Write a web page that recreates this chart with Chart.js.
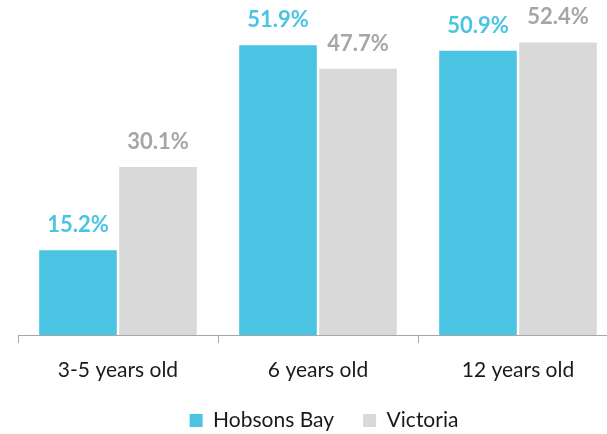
<!DOCTYPE html>
<html>
<head>
<meta charset="utf-8">
<script src="https://cdn.jsdelivr.net/npm/chart.js@4"></script>
<style>
  html, body { margin: 0; padding: 0; background: #fff; overflow: hidden; }
  #wrap { width: 630px; height: 434px; }
</style>
</head>
<body>
<div id="wrap"><canvas id="myChart" width="630" height="434"></canvas></div>
<script>
const categories = ['3-5 years old', '6 years old', '12 years old'];
const hobsonsBay = [15.2, 51.9, 50.9];
const victoria = [30.1, 47.7, 52.4];
const seriesNames = ['Hobsons Bay', 'Victoria'];

const blue = '#4BC4E3';
const grey = '#D9D9D9';
const greyText = '#A6A6A6';

// draws the value above each bar
const valueLabels = {
  id: 'valueLabels',
  afterDatasetsDraw(chart) {
    const ctx = chart.ctx;
    ctx.save();
    ctx.font = 'bold 22px Lato';
    ctx.textAlign = 'center';
    ctx.textBaseline = 'alphabetic';
    chart.data.datasets.forEach((ds, i) => {
      const meta = chart.getDatasetMeta(i);
      ctx.fillStyle = i === 0 ? blue : greyText;
      meta.data.forEach((bar, j) => {
        ctx.fillText(ds.data[j].toFixed(1) + '%', bar.x, bar.y - 18);
      });
    });
    ctx.restore();
  }
};

let ctx = document.getElementById('myChart').getContext('2d');
let myChart = new Chart(ctx, {
  type: 'bar',
  data: {
    labels: categories,
    datasets: [{
        label: seriesNames[0],
        data: hobsonsBay,
        backgroundColor: blue,
        barPercentage: 0.97,
        categoryPercentage: 0.8
      },
      {
        label: seriesNames[1],
        data: victoria,
        backgroundColor: grey,
        barPercentage: 0.97,
        categoryPercentage: 0.8
      }]
  },
  options: {
    responsive: false,
    animation: false,
    layout: { padding: { left: 18, right: 0, top: 0, bottom: 0 } },
    plugins: {
      tooltip: { enabled: false },
      legend: {
        position: 'bottom',
        maxHeight: 53,
        labels: {
          boxWidth: 13,
          boxHeight: 13,
          padding: 29,
          color: '#1a1a1a',
          font: { family: 'Lato', size: 21 }
        }
      }
    },
    scales: {
      x: {
        grid: {
          offset: true,
          drawOnChartArea: false,
          drawTicks: true,
          tickLength: 8,
          color: '#A6A6A6'
        },
        border: { color: '#A6A6A6' },
        ticks: {
          color: '#1a1a1a',
          padding: 15,
          font: { family: 'Lato', size: 21 }
        },
        afterFit: function(scale) { scale.height = 46; }
      },
      y: {
        position: 'right',
        min: 0,
        max: 60,
        grid: { display: false },
        border: { display: false },
        ticks: { display: false },
        afterFit: function(scale) { scale.width = 12; }
      }
    }
  },
  plugins: [valueLabels]
});
</script>
</body>
</html>
